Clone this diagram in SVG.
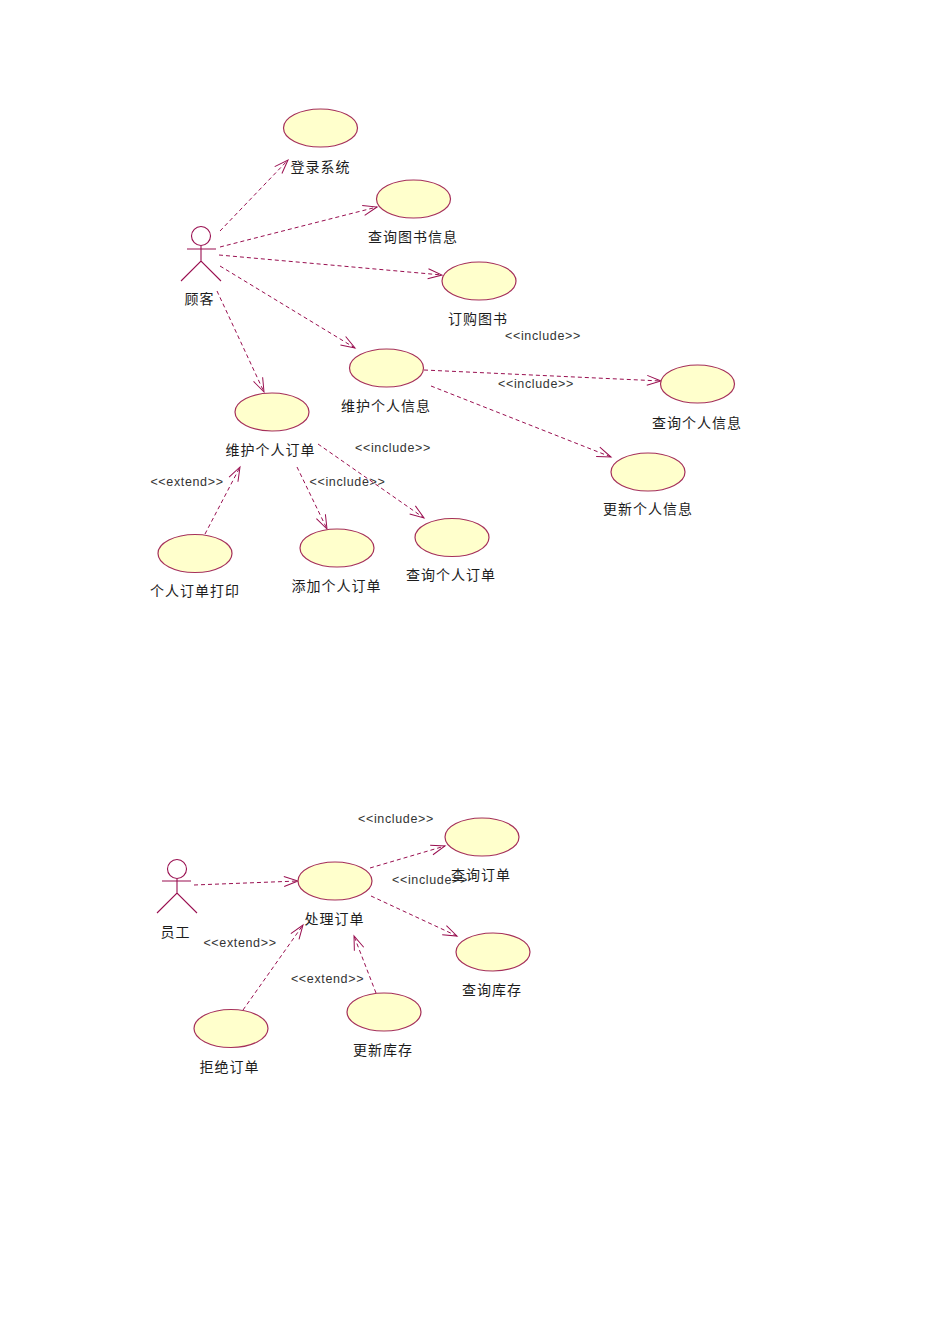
<svg xmlns="http://www.w3.org/2000/svg" width="950" height="1344" viewBox="0 0 950 1344">
<defs>
<marker id="arr" markerUnits="userSpaceOnUse" markerWidth="18" markerHeight="14" refX="15" refY="6" orient="auto" viewBox="0 0 18 12"><path d="M1 1L15 6L1 11" fill="none" stroke="#990f50" stroke-width="1"/></marker>
</defs>
<style>
text{font-family:"Liberation Sans","Noto Sans CJK SC",sans-serif;fill:#1c1c1c}
.cn{font-size:14px;letter-spacing:1px;text-anchor:middle}
.st{font-size:12.5px;letter-spacing:.65px;text-anchor:middle;fill:#333}
ellipse{fill:#ffffcc;stroke:#a5305a;stroke-width:1.2}
.a{fill:none;stroke:#990f50;stroke-width:1.1}
#connectors line{stroke:#990f50;stroke-width:1;stroke-dasharray:4 3;marker-end:url(#arr)}
</style>
<rect width="950" height="1344" fill="#fff"/>
<g id="connectors">
<line x1="220" y1="231" x2="288" y2="160"/>
<line x1="220" y1="247" x2="377" y2="207"/>
<line x1="219" y1="255" x2="442" y2="275"/>
<line x1="220" y1="266" x2="355" y2="348"/>
<line x1="217" y1="291" x2="264" y2="392"/>
<line x1="424" y1="370" x2="661" y2="381"/>
<line x1="431" y1="386" x2="611" y2="457"/>
<line x1="205" y1="534" x2="240" y2="467"/>
<line x1="297" y1="467" x2="327" y2="529"/>
<line x1="318" y1="444" x2="424" y2="518"/>
<line x1="194" y1="885" x2="298" y2="881"/>
<line x1="370" y1="868" x2="445" y2="846"/>
<line x1="371" y1="896" x2="457" y2="936"/>
<line x1="243" y1="1010" x2="303" y2="925"/>
<line x1="376" y1="993" x2="354" y2="936"/>
</g>
<g id="actor-customer">
<circle class="a" cx="201" cy="236" r="9.5" fill="#fff"/>
<path class="a" d="M201 246V261M187 249H216M181 281L201 261L221 281"/>
<text class="cn" x="199.500" y="304">顾客</text>
</g>
<g id="uc-login"><ellipse cx="320.500" cy="128" rx="37" ry="19"/><text class="cn" x="320.500" y="172">登录系统</text></g>
<g id="uc-search-book"><ellipse cx="413.500" cy="199" rx="37" ry="19"/><text class="cn" x="413" y="242">查询图书信息</text></g>
<g id="uc-order-book"><ellipse cx="479" cy="281" rx="37" ry="19"/><text class="cn" x="478" y="324">订购图书</text></g>
<g id="uc-maintain-info"><ellipse cx="386.500" cy="368" rx="37" ry="19"/><text class="cn" x="386" y="411">维护个人信息</text></g>
<g id="uc-query-info"><ellipse cx="697.500" cy="384" rx="37" ry="19"/><text class="cn" x="697" y="428">查询个人信息</text></g>
<g id="uc-update-info"><ellipse cx="648" cy="472" rx="37" ry="19"/><text class="cn" x="648" y="514">更新个人信息</text></g>
<g id="uc-maintain-order"><ellipse cx="272" cy="412" rx="37" ry="19"/><text class="cn" x="270.500" y="455">维护个人订单</text></g>
<g id="uc-print-order"><ellipse cx="195" cy="553.500" rx="37" ry="19"/><text class="cn" x="195" y="596">个人订单打印</text></g>
<g id="uc-add-order"><ellipse cx="337" cy="548" rx="37" ry="19"/><text class="cn" x="336.500" y="591">添加个人订单</text></g>
<g id="uc-query-order"><ellipse cx="452" cy="537.500" rx="37" ry="19"/><text class="cn" x="451" y="580">查询个人订单</text></g>
<g id="actor-staff">
<circle class="a" cx="177" cy="869" r="9.500" fill="#fff"/>
<path class="a" d="M177 879V893M162 881H191M157 913L177 893L197 913"/>
<text class="cn" x="175.500" y="937">员工</text>
</g>
<g id="uc-process"><ellipse cx="335" cy="881" rx="37" ry="19"/><text class="cn" x="334.500" y="924">处理订单</text></g>
<g id="uc-check-order"><ellipse cx="482" cy="837" rx="37" ry="19"/><text class="cn" x="481" y="880">查询订单</text></g>
<g id="uc-check-stock"><ellipse cx="493" cy="952" rx="37" ry="19"/><text class="cn" x="492" y="995">查询库存</text></g>
<g id="uc-reject"><ellipse cx="231" cy="1028.500" rx="37" ry="19"/><text class="cn" x="229.500" y="1072">拒绝订单</text></g>
<g id="uc-update-stock"><ellipse cx="384" cy="1012" rx="37" ry="19"/><text class="cn" x="383" y="1055">更新库存</text></g>
<g id="labels">
<text class="st" x="543" y="340">&lt;&lt;include&gt;&gt;</text>
<text class="st" x="536" y="388">&lt;&lt;include&gt;&gt;</text>
<text class="st" x="393" y="452">&lt;&lt;include&gt;&gt;</text>
<text class="st" x="347.500" y="486">&lt;&lt;include&gt;&gt;</text>
<text class="st" x="187" y="486">&lt;&lt;extend&gt;&gt;</text>
<text class="st" x="396" y="823">&lt;&lt;include&gt;&gt;</text>
<text class="st" x="430" y="884">&lt;&lt;include&gt;&gt;</text>
<text class="st" x="240" y="947">&lt;&lt;extend&gt;&gt;</text>
<text class="st" x="327.500" y="983">&lt;&lt;extend&gt;&gt;</text>
</g>
</svg>
